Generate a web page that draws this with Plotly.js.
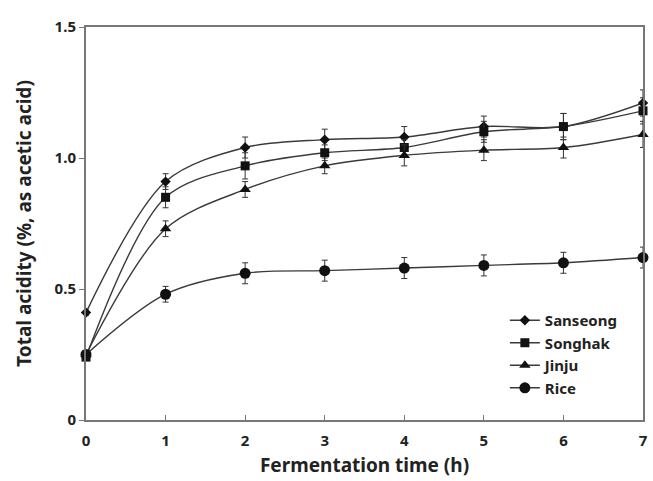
<!DOCTYPE html>
<html>
<head>
<meta charset="utf-8">
<script src="https://cdn.plot.ly/plotly-3.0.1.min.js"></script>
<style>html,body{margin:0;padding:0;background:#fff;}#chart{width:653px;height:481px;}</style>
</head>
<body>
<div id="chart"></div>
<script>
var time = [0, 1, 2, 3, 4, 5, 6, 7];
var sanseong = [0.41, 0.91, 1.04, 1.07, 1.08, 1.12, 1.12, 1.21];
var sanseongErr = [0.01, 0.03, 0.04, 0.04, 0.04, 0.04, 0.05, 0.05];
var songhak = [0.24, 0.85, 0.97, 1.02, 1.04, 1.10, 1.12, 1.18];
var songhakErr = [0.01, 0.04, 0.05, 0.03, 0.03, 0.04, 0.05, 0.05];
var jinju = [0.25, 0.73, 0.88, 0.97, 1.01, 1.03, 1.04, 1.09];
var jinjuErr = [0.01, 0.03, 0.03, 0.03, 0.04, 0.04, 0.04, 0.05];
var rice = [0.25, 0.48, 0.56, 0.57, 0.58, 0.59, 0.60, 0.62];
var riceErr = [0.01, 0.03, 0.04, 0.04, 0.04, 0.04, 0.04, 0.04];
var seriesNames = ['Sanseong', 'Songhak', 'Jinju', 'Rice'];
var yTickVals = [0, 0.5, 1.0, 1.5];
var yTickText = ['0', '0.5', '1.0', '1.5'];
var xTickVals = [0, 1, 2, 3, 4, 5, 6, 7];

var symbols = ['diamond', 'square', 'triangle-up', 'circle'];
var sizes = [8, 9, 10, 11];
var ys = [sanseong, songhak, jinju, rice];
var errs = [sanseongErr, songhakErr, jinjuErr, riceErr];

var traces = ys.map(function (y, i) {
  return {
    x: time, y: y, name: seriesNames[i], type: 'scatter', mode: 'lines+markers',
    line: {color: '#3a3a3a', width: 1.4, shape: 'spline', smoothing: 0.9},
    marker: {symbol: symbols[i], size: sizes[i], color: '#111'},
    error_y: {type: 'data', array: errs[i], visible: true, color: '#333', thickness: 1, width: 3},
    cliponaxis: false
  };
});

var fontFam = 'Noto Sans, Open Sans, sans-serif';
var layout = {
  width: 653, height: 481,
  margin: {l: 86, r: 10, t: 27, b: 61},
  paper_bgcolor: '#fff', plot_bgcolor: '#fff',
  showlegend: true,
  legend: {x: 0.752, y: 0.295, xanchor: 'left', yanchor: 'top', bgcolor: 'rgba(0,0,0,0)',
    font: {family: fontFam, size: 15, color: '#222', weight: 'bold'}, tracegroupgap: 0, itemwidth: 30},
  xaxis: {
    range: [0, 7], tickvals: xTickVals, ticks: 'inside', ticklen: 5, tickcolor: '#777',
    showline: true, linecolor: '#777', linewidth: 2, mirror: true, showgrid: false, zeroline: false,
    ticklabelstandoff: 6,
    tickfont: {family: fontFam, size: 15, color: '#222', weight: 'bold'},
    title: {text: 'Fermentation time (h)', font: {family: fontFam, size: 19, color: '#222', weight: 'bold'}, standoff: 10}
  },
  yaxis: {
    range: [0, 1.5], tickvals: yTickVals, ticktext: yTickText, ticks: 'outside', ticklen: 5, tickcolor: '#777',
    showline: true, linecolor: '#777', linewidth: 2, mirror: true, showgrid: false, zeroline: false,
    tickfont: {family: fontFam, size: 15, color: '#222', weight: 'bold'},
    title: {text: 'Total acidity (%, as acetic acid)', font: {family: fontFam, size: 19, color: '#222', weight: 'bold'}, standoff: 18}
  }
};
Plotly.newPlot('chart', traces, layout, {displayModeBar: false, staticPlot: true});
</script>
</body>
</html>
